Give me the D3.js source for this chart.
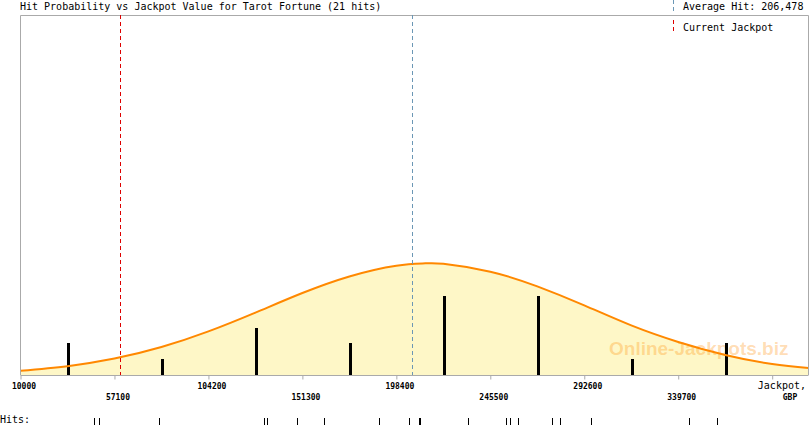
<!DOCTYPE html>
<html>
<head>
<meta charset="utf-8">
<script src="https://cdn.jsdelivr.net/npm/d3@7"></script>
<style>
  html, body { margin: 0; padding: 0; background: #ffffff; }
  svg { display: block; }
  text { font-family: "DejaVu Sans Mono", monospace; }
</style>
</head>
<body>
<svg id="chart" width="810" height="425"></svg>
<script>
// ---------- data ----------
const title = "Hit Probability vs Jackpot Value for Tarot Fortune (21 hits)";
const averageHit = 206478;
const currentJackpot = 59900;
const hitValues = [46600, 49400, 79600, 132300, 133800, 148800, 162300, 189900,
  204900, 209700, 210000, 210300, 234200, 253200, 255400, 259200, 276200,
  280200, 296000, 345000, 359000];
const tickValues = [10000, 57100, 104200, 151300, 198400, 245500, 292600, 339700, 386800];
const tickLabels = ["10000", "57100", "104200", "151300", "198400", "245500", "292600", "339700", ""];
// fitted distribution curve, expected hits per bin
const curveJackpot = [10000, 33550, 57100, 80650, 104200, 127750, 151300, 174850, 198400,
  213000, 221950, 245500, 269050, 292600, 316150, 339700, 363250, 386800, 405000];
const curveHits = [0.27, 0.56, 1.04, 1.77, 2.76, 3.95, 5.19, 6.24, 6.92,
  7.07, 7.04, 6.54, 5.61, 4.41, 3.14, 2.09, 1.27, 0.69, 0.44];

// ---------- layout ----------
const pLeft = 20.5, pRight = 808.5, pTop = 15, pBottom = 375;
const svg = d3.select("#chart");

const x = d3.scaleLinear().domain([10000, 405000]).range([pLeft, pRight]);
const y = d3.scaleLinear().domain([0, 22.8]).range([pBottom, pTop]);

// curve area
const curvePts = curveJackpot.map((v, i) => ({v, h: curveHits[i]}));
svg.append("path")
  .datum(curvePts)
  .attr("fill", "#fef7c7")
  .attr("d", d3.area().x(d => x(d.v)).y0(pBottom).y1(d => y(d.h)).curve(d3.curveNatural));

// watermark
svg.append("text")
  .attr("x", 609).attr("y", 355)
  .attr("fill", "#ff8c00").attr("fill-opacity", 0.3)
  .style("font-family", "'Liberation Sans', Arial, sans-serif")
  .style("font-weight", "bold").style("font-size", "19px")
  .text("Online-Jackpots.biz");

// histogram bars
const bins = d3.bin().domain([10000, 386800]).thresholds(tickValues.slice(1, -1))(hitValues);
svg.append("g").selectAll("rect").data(bins).join("rect")
  .attr("x", d => Math.round(x((d.x0 + d.x1) / 2)))
  .attr("width", 3)
  .attr("y", d => Math.round(y(d.length)))
  .attr("height", d => pBottom - Math.round(y(d.length)))
  .attr("fill", "#000");

// curve line
svg.append("path")
  .datum(curvePts)
  .attr("fill", "none").attr("stroke", "#ff8800").attr("stroke-width", 2)
  .attr("d", d3.line().x(d => x(d.v)).y(d => y(d.h)).curve(d3.curveNatural));

// frame
svg.append("path")
  .attr("d", `M${pLeft},${pBottom} V${pTop + 0.5} H${pRight} V${pBottom}`)
  .attr("fill", "none").attr("stroke", "#aaaaaa").attr("stroke-width", 1);

// x axis
const axis = svg.append("g").attr("transform", `translate(0,${pBottom})`)
  .call(d3.axisBottom(x).tickValues(tickValues).tickSize(4).tickSizeOuter(0).tickFormat(""));
axis.select(".domain").attr("stroke", "#aaaaaa").attr("d", `M${pLeft},0.5H${pRight}`);
axis.selectAll(".tick line").attr("stroke", "#aaaaaa").attr("transform", "translate(0,0.5)");
axis.selectAll(".tick").each(function(d, i) {
  d3.select(this).append("text")
    .attr("x", 3).attr("y", i % 2 === 0 ? 13.5 : 25)
    .attr("text-anchor", "middle")
    .attr("fill", "#000").style("font-size", "8px").style("font-weight", "bold")
    .text(tickLabels[i]);
});
svg.append("text").attr("x", 806).attr("y", 389).attr("text-anchor", "end")
  .style("font-size", "10px").attr("fill", "#000").text("Jackpot,");
svg.append("text").attr("x", 790).attr("y", 400).attr("text-anchor", "middle")
  .style("font-size", "8px").style("font-weight", "bold").attr("fill", "#000").text("GBP");

// reference lines
svg.append("line")
  .attr("x1", Math.round(x(averageHit)) + 0.5).attr("x2", Math.round(x(averageHit)) + 0.5)
  .attr("y1", pTop).attr("y2", pBottom)
  .attr("stroke", "#6b97b5").attr("stroke-dasharray", "4,3");
svg.append("line")
  .attr("x1", Math.round(x(currentJackpot)) + 0.5).attr("x2", Math.round(x(currentJackpot)) + 0.5)
  .attr("y1", pTop).attr("y2", pBottom)
  .attr("stroke", "#dd0000").attr("stroke-dasharray", "4,3");

// title
svg.append("text").attr("x", 20).attr("y", 10).style("font-size", "10px")
  .attr("fill", "#000").text(title);

// legend
svg.append("line").attr("x1", 673.5).attr("x2", 673.5).attr("y1", 0).attr("y2", 12)
  .attr("stroke", "#6b97b5").attr("stroke-dasharray", "4,3");
svg.append("text").attr("x", 683).attr("y", 10).style("font-size", "10px")
  .attr("fill", "#000").text("Average Hit: " + d3.format(",")(averageHit));
svg.append("line").attr("x1", 673.5).attr("x2", 673.5).attr("y1", 20).attr("y2", 33)
  .attr("stroke", "#dd0000").attr("stroke-dasharray", "4,3");
svg.append("text").attr("x", 683).attr("y", 31).style("font-size", "10px")
  .attr("fill", "#000").text("Current Jackpot");

// hits rug
svg.append("text").attr("x", 0).attr("y", 423).style("font-size", "10px")
  .attr("fill", "#000").text("Hits:");
svg.append("g").selectAll("line").data(hitValues).join("line")
  .attr("x1", d => Math.round(x(d)) + 0.5).attr("x2", d => Math.round(x(d)) + 0.5)
  .attr("y1", 418).attr("y2", 425)
  .attr("stroke", "#000").attr("stroke-width", 1);
</script>
</body>
</html>
